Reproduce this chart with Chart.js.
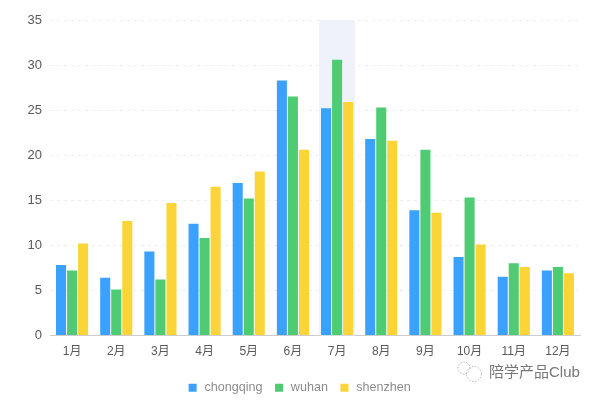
<!DOCTYPE html>
<html>
<head>
<meta charset="utf-8">
<style>
  html, body { margin: 0; padding: 0; background: #fff; }
  #wrap { width: 600px; height: 400px; }
</style>
<script src="https://cdn.jsdelivr.net/npm/chart.js@4"></script>
</head>
<body>
<div id="wrap"><canvas id="myChart" width="600" height="400"></canvas></div>
<script>
const months = ["1月", "2月", "3月", "4月", "5月", "6月", "7月", "8月", "9月", "10月", "11月", "12月"];
const chongqing = [7.8, 6.4, 9.3, 12.4, 16.9, 28.3, 25.2, 21.8, 13.9, 8.7, 6.5, 7.2];
const wuhan = [7.2, 5.1, 6.2, 10.8, 15.2, 26.5, 30.6, 25.3, 20.6, 15.3, 8, 7.6];
const shenzhen = [10.2, 12.7, 14.7, 16.5, 18.2, 20.6, 25.9, 21.6, 13.6, 10.1, 7.6, 6.9];
const highlightMonth = "7月";

const fontFamily = '"Liberation Sans", "Noto Sans CJK SC", sans-serif';

// light band behind the hovered month
const highlightPlugin = {
  id: "highlight",
  afterLayout(chart) {
    // legend sits centred on the whole canvas, not on the padded area
    chart.legend.left += 9;
    chart.legend.right += 9;
  },
  beforeDatasetsDraw(chart) {
    const { ctx, scales, chartArea } = chart;
    const cx = scales.x.getPixelForValue(months.indexOf(highlightMonth));
    ctx.save();
    ctx.fillStyle = "#f0f2fb";
    ctx.fillRect(cx - 18, chartArea.top, 36, chartArea.bottom - chartArea.top);
    ctx.restore();
  },
};

// watermark, bottom right
const watermarkPlugin = {
  id: "watermark",
  afterDraw(chart) {
    const ctx = chart.ctx;
    ctx.save();
    ctx.strokeStyle = "#999";
    ctx.lineWidth = 0.7;
    ctx.setLineDash([1.5, 1.5]);
    ctx.beginPath();
    ctx.arc(464, 368, 6, 0, Math.PI * 2);
    ctx.stroke();
    ctx.beginPath();
    ctx.arc(474, 374, 7.5, 0, Math.PI * 2);
    ctx.stroke();
    ctx.setLineDash([]);
    ctx.fillStyle = "#777";
    ctx.font = "15px " + fontFamily;
    ctx.textBaseline = "middle";
    ctx.fillText("陪学产品Club", 489, 373);
    ctx.restore();
  },
};

const makeSet = (label, data, color) => ({
  label: label,
  data: data,
  backgroundColor: color,
  categoryPercentage: 0.75,
  barPercentage: 0.91,
});

new Chart(document.getElementById("myChart").getContext("2d"), {
  type: "bar",
  data: {
    labels: months,
    datasets: [
      makeSet("chongqing", chongqing, "#3aa1ff"),
      makeSet("wuhan", wuhan, "#4ecb73"),
      makeSet("shenzhen", shenzhen, "#fbd437"),
    ],
  },
  options: {
    responsive: false,
    animation: false,
    layout: { padding: { top: 20, right: 20, bottom: -4 } },
    plugins: {
      tooltip: { enabled: false },
      legend: {
        position: "bottom",
        labels: {
          usePointStyle: true,
          pointStyle: "rect",
          boxWidth: 11,
          boxHeight: 8,
          padding: 11,
          color: "#8c8c8c",
          font: { family: fontFamily, size: 12.6 },
        },
      },
    },
    scales: {
      x: {
        afterFit(scale) { scale.height = 35; },
        grid: { display: false, drawOnChartArea: false, tickLength: 4, tickColor: "#ccc" },
        border: { color: "#ccc" },
        ticks: { color: "#595959", padding: 5, maxRotation: 0, font: { family: fontFamily, size: 12 } },
      },
      y: {
        min: 0,
        max: 35,
        afterFit(scale) { scale.width = 50; },
        grid: { color: "#eeeeee", drawTicks: false },
        border: { display: false, dash: [3, 4] },
        ticks: { stepSize: 5, color: "#595959", padding: 8, font: { family: fontFamily, size: 13 } },
      },
    },
  },
  plugins: [highlightPlugin, watermarkPlugin],
});
</script>
</body>
</html>
